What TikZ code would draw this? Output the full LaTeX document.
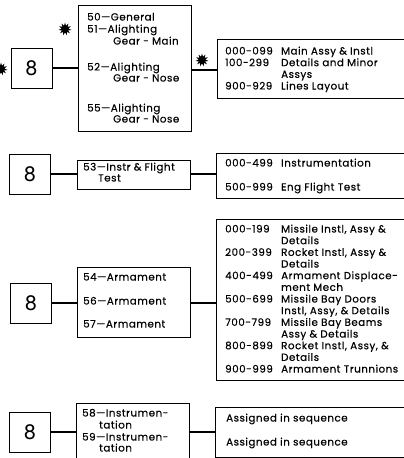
\documentclass[tikz,border=0pt]{standalone}
\usepackage{fontspec}
\setmainfont{Poppins}[LetterSpace=5, FakeBold=0.4]
\newfontfamily\numfont{TeX Gyre Heros}
\usetikzlibrary{shapes.geometric}
\tikzset{
  box/.style={draw, line width=0.8pt, inner sep=0pt},
  eight/.style={box, minimum width=41pt, minimum height=40pt, font=\numfont\fontsize{21}{21}\selectfont},
  conn/.style={line width=2pt},
  txt/.style={anchor=base west, inner sep=0pt, font=\fontsize{10.3}{11.67}\selectfont},
  burst/.style={star, star points=11, star point ratio=1.9, fill=black, draw=none, minimum size=13pt, inner sep=0pt},
}
\begin{document}
\begin{tikzpicture}[x=1pt,y=-1pt]
\useasboundingbox (0,0) rectangle (404,458);
\clip (0,0) rectangle (404,458);
% ---------- row 1
\node[eight] (e1) at (31.5,68) {8};
\node[box, minimum width=113pt, minimum height=126pt] (m1) at (134.5,68) {};
\node[box, minimum width=200pt, minimum height=59pt] (r1) at (317,68.5) {};
\node[txt] (m1a) at (87,20.5) {50—General};
\node[txt] (m1b) at (87,32.5) {51—Alighting};
\node[txt] (m1c) at (113,44.5) {Gear - Main};
\node[txt] (m1d) at (87,70.5) {52—Alighting};
\node[txt] (m1e) at (113,81.5) {Gear - Nose};
\node[txt] (m1f) at (87,111.5) {55—Alighting};
\node[txt] (m1g) at (113,122.5) {Gear - Nose};
\foreach \k/\n/\d in {0/000-099/Main Assy \& Instl, 1/100-299/Details and Minor, 2//Assys, 3/900-929/Lines Layout}{
  \node[txt] (r1n\k) at (225,54.5+11.67*\k) {\n};
  \node[txt] (r1d\k) at (281,54.5+11.67*\k) {\d};
}
\draw[conn] (e1.east) -- (e1.east -| m1.west);
\draw[conn] (m1.east |- 0,70) -- (r1.west |- 0,70);
\node[burst] (s1) at (65,29) {};
\node[burst] (s2) at (202,60) {};
\node[burst] (s3) at (1,69) {};
% ---------- row 2
\node[eight] (e2) at (30,174) {8};
\node[box, minimum width=113pt, minimum height=29pt] (m2) at (133.5,174.5) {};
\node[box, minimum width=200pt, minimum height=45pt] (r2) at (316,175.5) {};
\node[txt] (m2a) at (83,170.5) {53—Instr \& Flight};
\node[txt] (m2b) at (98,181.5) {Test};
\node[txt] (r2n0) at (225,166.5) {000-499};
\node[txt] (r2d0) at (281,166.5) {Instrumentation};
\node[txt] (r2n1) at (225,190.5) {500-999};
\node[txt] (r2d1) at (281,190.5) {Eng Flight Test};
\draw[conn] (e2.east |- 0,174) -- (m2.west |- 0,174);
\draw[conn] (m2.east |- 0,174) -- (r2.west |- 0,174);
% ---------- row 3
\node[eight] (e3) at (31,303) {8};
\node[box, minimum width=113pt, minimum height=70pt] (m3) at (133.5,302) {};
\node[box, minimum width=200pt, minimum height=161pt] (r3) at (316,299.5) {};
\node[txt] (m3a) at (83,280.5) {54—Armament};
\node[txt] (m3b) at (83,304.5) {56—Armament};
\node[txt] (m3c) at (83,327.5) {57—Armament};
\foreach \k/\n/\d in {0/000-199/{Missile Instl, Assy \&}, 1//Details, 2/200-399/{Rocket Instl, Assy \&}, 3//Details, 4/400-499/Armament Displace-, 5//ment Mech, 6/500-699/Missile Bay Doors, 7//{Instl, Assy, \& Details}, 8/700-799/Missile Bay Beams, 9//Assy \& Details, 10/800-899/{Rocket Instl, Assy, \&}, 11//Details, 12/900-999/Armament Trunnions}{
  \node[txt] (r3n\k) at (225,232.5+11.67*\k) {\n};
  \node[txt] (r3d\k) at (281,232.5+11.67*\k) {\d};
}
\draw[conn] (e3.east) -- (e3.east -| m3.west);
\draw[conn] (m3.east |- e3) -- (r3.west |- e3);
% ---------- row 4
\node[eight] (e4) at (30,432) {8};
\node[box, minimum width=113pt, minimum height=62pt] (m4) at (132.5,434) {};
\node[box, minimum width=200pt, minimum height=50pt] (r4) at (315,432) {};
\node[txt] (m4a) at (82,416.5) {58—Instrumen-};
\node[txt] (m4b) at (99,428.5) {tation};
\node[txt] (m4c) at (82,440.5) {59—Instrumen-};
\node[txt] (m4d) at (99,451.5) {tation};
\node[txt] (r4a) at (226,421.5) {Assigned in sequence};
\node[txt] (r4b) at (226,445.5) {Assigned in sequence};
\draw[conn] (e4.east) -- (e4.east -| m4.west);
\draw[conn] (m4.east |- e4) -- (r4.west |- e4);
\end{tikzpicture}
\end{document}
